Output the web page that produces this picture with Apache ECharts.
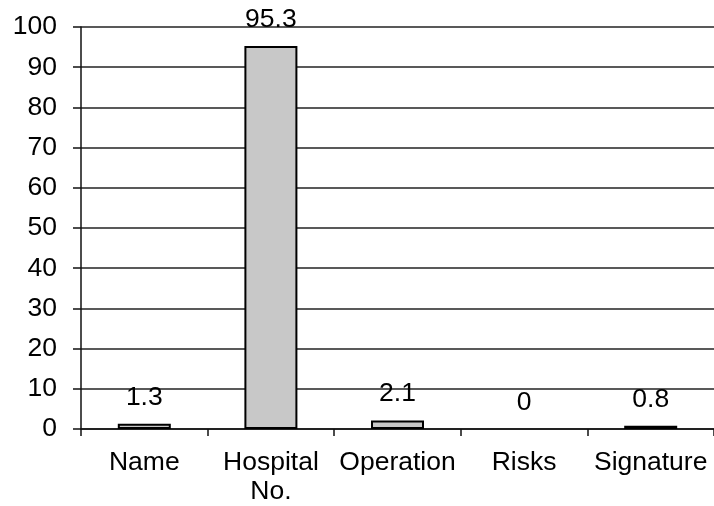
<!DOCTYPE html>
<html>
<head>
<meta charset="utf-8">
<script src="https://cdn.jsdelivr.net/npm/echarts@6/dist/echarts.min.js"></script>
<style>
  html, body { margin: 0; padding: 0; background: #fff; }
  #chart { width: 714px; height: 506px; }
</style>
</head>
<body>
<div id="chart"></div>
<script>
// Share of records by field
var categories = ['Name', 'Hospital\nNo.', 'Operation', 'Risks', 'Signature'];
var values = [1.3, 95.3, 2.1, 0, 0.8];
var yTicks = { min: 0, max: 100, interval: 10 };

var font = '"Liberation Sans", Arial, sans-serif';

// zero-height bars get no outline so only their label shows
var barData = values.map(function (v) {
  return v === 0 ? { value: v, itemStyle: { borderWidth: 0 } } : v;
});

var chart = echarts.init(document.getElementById('chart'));
chart.setOption({
  animation: false,
  backgroundColor: '#fff',
  grid: { left: 81, top: 27, width: 635, height: 402, containLabel: false },
  xAxis: {
    type: 'category',
    data: categories,
    axisLine: { show: true, lineStyle: { color: '#111', width: 1.5 } },
    axisTick: { show: true, interval: 0, length: 7, lineStyle: { color: '#111', width: 1.5 } },
    axisLabel: { interval: 0, color: '#000', fontFamily: font, fontSize: 26.5, margin: 19, lineHeight: 29 }
  },
  yAxis: {
    type: 'value',
    min: yTicks.min,
    max: yTicks.max,
    interval: yTicks.interval,
    axisLine: { show: true, lineStyle: { color: '#111', width: 1.5 } },
    axisTick: { show: true, length: 8, lineStyle: { color: '#111', width: 1.5 } },
    axisLabel: { color: '#000', fontFamily: font, fontSize: 26.5, margin: 24 },
    splitLine: { show: true, lineStyle: { color: '#222', width: 1.5 } }
  },
  series: [{
    type: 'bar',
    data: barData,
    barWidth: 53,
    itemStyle: { color: '#c8c8c8', borderColor: '#000', borderWidth: 2 },
    label: {
      show: true,
      position: 'top',
      distance: 13,
      color: '#000',
      fontFamily: font,
      fontSize: 26.5
    }
  }]
});
</script>
</body>
</html>
